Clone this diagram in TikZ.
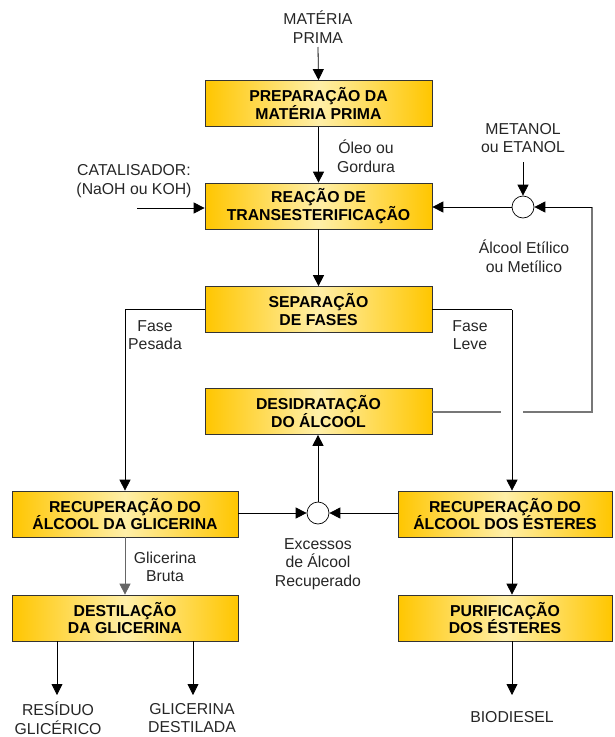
\documentclass[tikz,border=0pt]{standalone}
\usepackage{fontspec}
\setmainfont{Liberation Sans}
\usetikzlibrary{arrows.meta}
\definecolor{gold}{HTML}{FFC600}
\definecolor{lightgold}{HTML}{FFEFA8}
\definecolor{linegray}{HTML}{777777}
\tikzset{
  box/.style={draw=black!80, line width=0.7pt, left color=gold, right color=gold, middle color=lightgold,
    minimum height=46pt, inner sep=0pt, align=center, font=\fontsize{15.8}{17.5}\selectfont\bfseries},
  wide/.style={minimum width=227pt},
  half/.style={minimum width=226pt},
  halfr/.style={minimum width=214pt},
  lbl/.style={inner sep=0pt, align=center, font=\fontsize{15.8}{18.5}\selectfont, text=black!85},
  junc/.style={circle, draw=black, fill=white, line width=0.7pt, minimum size=22pt, inner sep=0pt},
  conn/.style={line width=0.8pt, -{Triangle[length=11pt,width=11pt]}},
  plain/.style={line width=0.8pt},
  grayline/.style={line width=1.3pt, draw=linegray}
}
\begin{document}
\begin{tikzpicture}[x=1pt,y=-1pt]
\useasboundingbox (0,0) rectangle (614,737);
% boxes
\node[box,wide] (prep) at (318.5,103.5) {PREPARAÇÃO DA\\MATÉRIA PRIMA};
\node[box,wide] (reac) at (318.5,206) {REAÇÃO DE\\TRANSESTERIFICAÇÃO};
\node[box,wide] (sep) at (318.5,309.5) {SEPARAÇÃO\\DE FASES};
\node[box,wide] (desid) at (318.5,411.5) {DESIDRATAÇÃO\\DO ÁLCOOL};
\node[box,half] (recg) at (125,514) {RECUPERAÇÃO DO\\ÁLCOOL DA GLICERINA};
\node[box,halfr] (rece) at (505,514) {RECUPERAÇÃO DO\\ÁLCOOL DOS ÉSTERES};
\node[box,half] (dest) at (125,618) {DESTILAÇÃO\\DA GLICERINA};
\node[box,halfr] (puri) at (505,618) {PURIFICAÇÃO\\DOS ÉSTERES};
% junctions
\node[junc] (c1) at (523,207) {};
\node[junc] (c2) at (318,513) {};
% labels
\node[lbl] (mp) at (318,27) {MATÉRIA\\PRIMA};
\node[lbl] (oleo) at (366,156) {Óleo ou\\Gordura};
\node[lbl] (cat) at (134,181) {CATALISADOR:\\(NaOH ou KOH)};
\node[lbl] (met) at (523,138) {METANOL\\ou ETANOL};
\node[lbl] (alc) at (524,256) {Álcool Etílico\\ou Metílico};
\node[lbl] (fp) at (155,335) {Fase\\Pesada};
\node[lbl] (fl) at (470,335) {Fase\\Leve};
\node[lbl] (gb) at (165,567) {Glicerina\\Bruta};
\node[lbl] (exc) at (318,564) {Excessos\\de Álcool\\Recuperado};
\node[lbl] (res) at (58,718) {RESÍDUO\\GLICÉRICO};
\node[lbl] (gd) at (192,718) {GLICERINA\\DESTILADA};
\node[lbl] (bio) at (512,717) {BIODIESEL};
% coordinates
\coordinate (mpa) at (318,47);
\coordinate (cata) at (137,208);
\coordinate (meta) at (523,162);
\coordinate (ga) at (501,412);
\coordinate (gb2) at (523,412);
\coordinate (rc) at (592,412);
\coordinate (fpc) at (125,309.5);
\coordinate (flc) at (512,309.5);
\coordinate (r1) at (57,641);
\coordinate (r2) at (193,641);
\coordinate (ra) at (57,695);
\coordinate (rb) at (193,695);
\coordinate (bs) at (512,641);
\coordinate (ba) at (512,695);
% connectors
\draw[conn] (mpa) -- (prep.north);
\draw[conn] (prep.south) -- (reac.north);
\draw[conn] (cata) -- (cata -| reac.west);
\draw[conn] (meta) -- (c1.north);
\draw[conn] (c1.west) -- (c1.west -| reac.east);
\draw[grayline] (desid.east |- ga) -- (ga);
\draw[grayline] (gb2) -- (rc) -- (rc |- c1.east);
\draw[conn] (rc |- c1.east) -- (c1.east);
\draw[conn] (reac.south) -- (sep.north);
\draw[plain] (sep.west |- fpc) -- (fpc);
\draw[conn] (fpc) -- (recg.north);
\draw[plain] (sep.east |- flc) -- (flc);
\draw[conn] (flc) -- (flc |- rece.north);
\draw[conn] (c2.west -| recg.east) -- (c2.west);
\draw[conn] (c2.east -| rece.west) -- (c2.east);
\draw[conn] (c2.north) -- (desid.south -| c2.north);
\draw[conn, draw=black!60] (recg.south) -- (dest.north);
\draw[conn] (flc |- rece.south) -- (flc |- puri.north);
\draw[conn] (r1) -- (ra);
\draw[conn] (r2) -- (rb);
\draw[conn] (bs) -- (ba);
\end{tikzpicture}
\end{document}
